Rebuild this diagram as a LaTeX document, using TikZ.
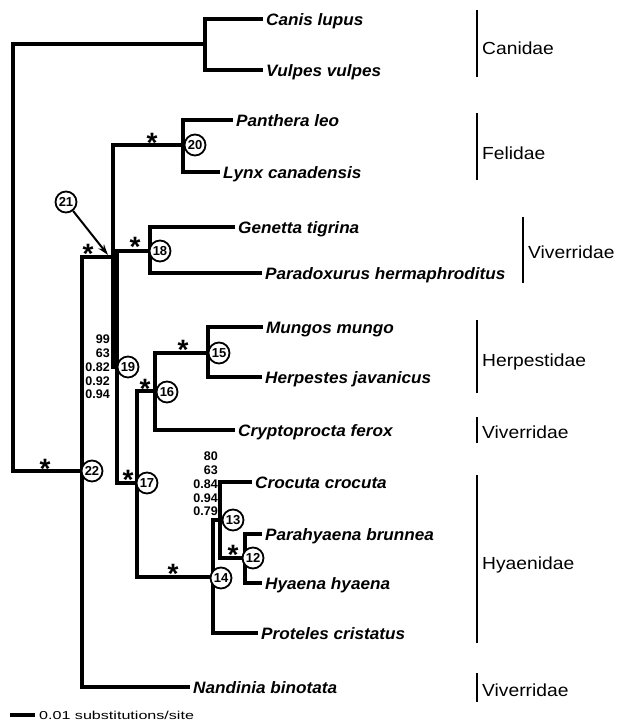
\documentclass[tikz,border=0pt]{standalone}
\usepackage{fontspec}
\setmainfont{Liberation Sans}
\newfontfamily\taxfont[FakeStretch=1.04]{Liberation Sans}
\newfontfamily\famfont[FakeStretch=1.1]{Liberation Sans}
\newfontfamily\barfont[FakeStretch=1.4]{Liberation Sans}
\usetikzlibrary{arrows.meta}

\begin{document}
\begin{tikzpicture}[x=1pt,y=-1pt,
  branch/.style={line width=4pt,line join=miter},
  taxon/.style={anchor=west,inner xsep=3pt,inner ysep=0pt,text height=12pt,text depth=0pt,
    font=\taxfont\bfseries\itshape\fontsize{16.5}{18}\selectfont},
  family/.style={anchor=west,inner sep=0pt,text height=12.5pt,text depth=0pt,
    font=\famfont\fontsize{17.5}{19}\selectfont},
  famline/.style={line width=2pt},
  nodenum/.style={circle,draw,line width=1.8pt,fill=white,inner sep=0pt,minimum size=21pt,
    font=\bfseries\fontsize{13}{13}\selectfont},
  support/.style={anchor=east,align=right,inner sep=0pt,font=\bfseries\fontsize{12.5}{13.8}\selectfont},
  star/.style={anchor=base,inner sep=0pt,yshift=-16pt,font=\bfseries\fontsize{28}{28}\selectfont}]
  \useasboundingbox (0,0) rectangle (618,723);

  % internal nodes of the tree
  \coordinate (root) at (13,257);
  \coordinate (canid) at (205,44);
  \coordinate (n22) at (82,471);
  \coordinate (n21) at (113,257);
  \coordinate (n20) at (183,145);
  \coordinate (n19) at (117,367);
  \coordinate (n18) at (150,251);
  \coordinate (n17) at (137,483);
  \coordinate (n16) at (155,391);
  \coordinate (n15) at (208,353);
  \coordinate (n14) at (213,577);
  \coordinate (n13) at (220,520);
  \coordinate (n12) at (245,558);

  % taxa
  \node[taxon] (canis) at (263,19) {Canis lupus};
  \node[taxon] (vulpes) at (263,70) {Vulpes vulpes};
  \node[taxon] (panthera) at (233,120) {Panthera leo};
  \node[taxon] (lynx) at (220,172) {Lynx canadensis};
  \node[taxon] (genetta) at (235,227) {Genetta tigrina};
  \node[taxon] (paradoxurus) at (262,273) {Paradoxurus hermaphroditus};
  \node[taxon] (mungos) at (263,327) {Mungos mungo};
  \node[taxon] (herpestes) at (262,377) {Herpestes javanicus};
  \node[taxon] (cryptoprocta) at (235,430) {Cryptoprocta ferox};
  \node[taxon] (crocuta) at (252,482) {Crocuta crocuta};
  \node[taxon] (parahyaena) at (262,534) {Parahyaena brunnea};
  \node[taxon] (hyaena) at (262,583) {Hyaena hyaena};
  \node[taxon] (proteles) at (258,633) {Proteles cristatus};
  \node[taxon] (nandinia) at (190,687) {Nandinia binotata};

  % branches
  \draw[branch] (n22) -| (root) |- (canid);
  \draw[branch] (canis.west) -| (canid) |- (vulpes.west);
  \draw[branch] (n21) -| (n22) |- (nandinia.west);
  \draw[branch] (n20) -| (n21) |- (n19);
  \draw[branch] (panthera.west) -| (n20) |- (lynx.west);
  \draw[branch] (n18) -| (n19) |- (n17);
  \draw[branch] (genetta.west) -| (n18) |- (paradoxurus.west);
  \draw[branch] (n16) -| (n17) |- (n14);
  \draw[branch] (n15) -| (n16) |- (cryptoprocta.west);
  \draw[branch] (mungos.west) -| (n15) |- (herpestes.west);
  \draw[branch] (n13) -| (n14) |- (proteles.west);
  \draw[branch] (crocuta.west) -| (n13) |- (n12);
  \draw[branch] (parahyaena.west) -| (n12) |- (hyaena.west);

  % node numbers
  \node[nodenum] (c20) at (195,145) {20};
  \node[nodenum] (c21) at (66,202) {21};
  \node[nodenum] (c18) at (160,251) {18};
  \node[nodenum] (c19) at (128,367) {19};
  \node[nodenum] (c15) at (219,353) {15};
  \node[nodenum] (c16) at (167,392) {16};
  \node[nodenum] (c22) at (92,471) {22};
  \node[nodenum] (c17) at (147,483) {17};
  \node[nodenum] (c13) at (233,520) {13};
  \node[nodenum] (c12) at (253,558) {12};
  \node[nodenum] (c14) at (221,578) {14};

  \coordinate (a21) at (108,255);
  \draw[line width=2pt,-{Stealth[length=11pt,width=7pt]}] (c21) -- (a21);

  % support
  \node[star] (s20) at (152,136) {*};
  \node[star] (s21) at (88,247) {*};
  \node[star] (s18) at (135,240) {*};
  \node[star] (s16) at (145,382) {*};
  \node[star] (s15) at (183,343) {*};
  \node[star] (s17) at (128,473) {*};
  \node[star] (s22) at (45,462) {*};
  \node[star] (s14) at (173,567) {*};
  \node[star] (s12) at (233,548) {*};
  \node[support] (b19) at (110,367) {99\\63\\0.82\\0.92\\0.94};
  \node[support] (b13) at (218,484) {80\\63\\0.84\\0.94\\0.79};

  % families
  \draw[famline] (477,10) -- (477,77);
  \node[family] (canidae) at (482,48) {Canidae};
  \draw[famline] (477,113) -- (477,180);
  \node[family] (felidae) at (482,153) {Felidae};
  \draw[famline] (523,217) -- (523,283);
  \node[family] (viv1) at (528,252) {Viverridae};
  \draw[famline] (477,320) -- (477,393);
  \node[family] (herpestidae) at (482,360) {Herpestidae};
  \draw[famline] (477,417) -- (477,443);
  \node[family] (viv2) at (482,432) {Viverridae};
  \draw[famline] (477,475) -- (477,643);
  \node[family] (hyaenidae) at (482,563) {Hyaenidae};
  \draw[famline] (477,673) -- (477,702);
  \node[family] (viv3) at (482,690) {Viverridae};

  % scale
  \coordinate (sbl) at (10,715);
  \coordinate (sbr) at (35,715);
  \draw[line width=4pt] (sbl) -- (sbr);
  \node[anchor=west,inner sep=0pt,text height=8.3pt,text depth=0pt,font=\barfont\fontsize{11.5}{12}\selectfont] (scale) at (39,715) {0.01 substitutions/site};
\end{tikzpicture}
\end{document}
